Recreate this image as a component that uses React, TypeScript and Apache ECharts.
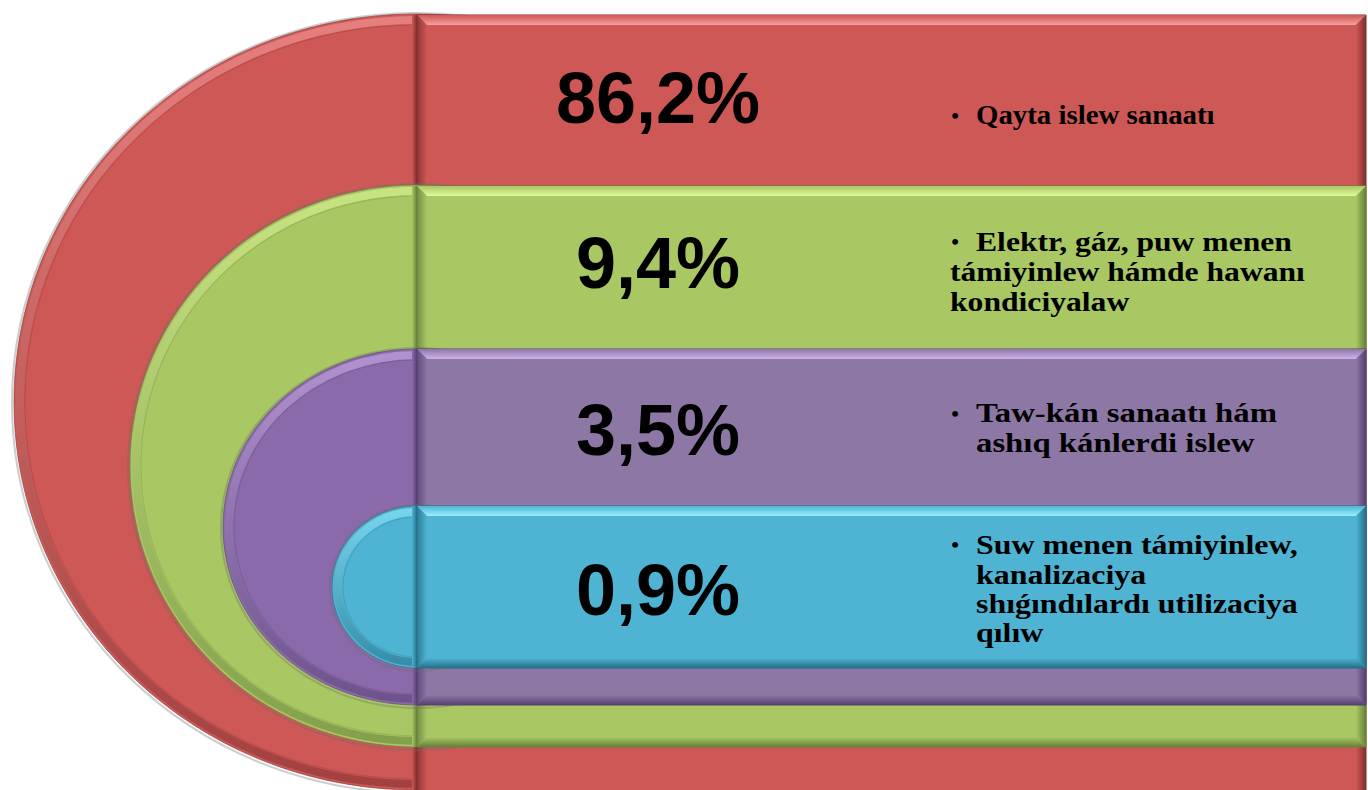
import React, { useEffect, useRef } from "react";
import * as echarts from "echarts";

// ---- data ----
const categories: string[] = [
  "Qayta islew sanaatı",
  "Elektr, gáz, puw menen\ntámiyinlew hámde hawanı\nkondiciyalaw",
  "Taw-kán sanaatı hám\nashıq kánlerdi islew",
  "Suw menen támiyinlew,\nkanalizaciya\nshıǵındılardı utilizaciya\nqılıw",
];
const shares: number[] = [86.2, 9.4, 3.5, 0.9];

// ---- styles ----
const palette = [
  { disc: "#CD5856", rect: "#CD5856", light: "#F8A09E", dark: "#7E2E2D" },
  { disc: "#A9C763", rect: "#A9C763", light: "#E0FA9C", dark: "#66803A" },
  { disc: "#8A6AAA", rect: "#8C77A5", light: "#CFB2EE", dark: "#563F72" },
  { disc: "#4FB4D3", rect: "#4FB4D3", light: "#98EEFC", dark: "#246F87" },
];

// ---- layout ----
const SPLIT_X = 417;
const RIGHT_X = 1366;
const bands = [
  { top: 15, bottom: 800, cy: 402, rx: 403, ry: 388, pctY: 98, lineY: [115], hanging: true, sx: 1.03 },
  { top: 186, bottom: 747, cy: 466, rx: 287, ry: 281, pctY: 263, lineY: [241, 271, 301], hanging: false, sx: 1.13 },
  { top: 349, bottom: 705, cy: 527, rx: 194, ry: 178, pctY: 430, lineY: [413, 443], hanging: true, sx: 1.17 },
  { top: 506, bottom: 668, cy: 587, rx: 85, ry: 81, pctY: 590, lineY: [544, 574, 603, 632], hanging: true, sx: 1.14 },
];

const fmt = (v: number) => v.toFixed(1).replace(".", ",") + "%";

function lg(x2: number, y2: number, c0: string, c1: string, x1 = 0, y1 = 0) {
  return new echarts.graphic.LinearGradient(x1, y1, x2, y2, [
    { offset: 0, color: c0 },
    { offset: 1, color: c1 },
  ]);
}

function buildGraphics() {
  const els: any[] = [];
  const B = 10;
  bands.forEach((b, i) => {
    const p = palette[i];
    const z = i * 20;
    const x0 = SPLIT_X;
    const x1 = RIGHT_X;
    const y0 = b.top;
    const y1 = b.bottom;
    // soft outer shadow of the disc
    els.push({
      type: "ellipse",
      z,
      shape: { cx: SPLIT_X, cy: b.cy + 1, rx: b.rx + 2, ry: b.ry + 2 },
      style: { fill: "rgba(0,0,0,0)", stroke: "rgba(110,110,110,0.35)", lineWidth: 2 },
      silent: true,
    });
    // disc
    els.push({
      type: "ellipse",
      z: z + 1,
      shape: { cx: SPLIT_X, cy: b.cy, rx: b.rx, ry: b.ry },
      style: { fill: p.disc, stroke: p.dark, lineWidth: 1, strokeOpacity: 0.6 },
      silent: true,
    });
    // disc bevel
    els.push({
      type: "ellipse",
      z: z + 2,
      shape: { cx: SPLIT_X, cy: b.cy, rx: b.rx - 6, ry: b.ry - 6 },
      style: {
        fill: "rgba(0,0,0,0)",
        stroke: lg(0.5, 1, p.light, p.dark, 0.5, 0),
        lineWidth: 8,
        opacity: 0.55,
      },
      silent: true,
    });
    els.push({
      type: "ellipse",
      z: z + 2,
      shape: { cx: SPLIT_X, cy: b.cy, rx: b.rx - 11, ry: b.ry - 11 },
      style: { fill: "rgba(0,0,0,0)", stroke: p.dark, lineWidth: 1, opacity: 0.3 },
      silent: true,
    });
    // dark seam on disc's right edge
    els.push({
      type: "rect",
      z: z + 3,
      shape: { x: SPLIT_X - 5, y: y0, width: 5, height: Math.min(y1, 800) - y0 },
      style: { fill: lg(1, 0, p.disc, p.dark) },
      silent: true,
    });
    // rectangle
    els.push({
      type: "rect",
      z: z + 4,
      shape: { x: x0, y: y0, width: x1 - x0, height: y1 - y0 },
      style: { fill: p.rect, stroke: p.dark, lineWidth: 1 },
      silent: true,
    });
    // bevels
    els.push({
      type: "polygon",
      z: z + 5,
      shape: { points: [[x0, y0], [x1, y0], [x1 - B, y0 + B], [x0 + B, y0 + B]] },
      style: { fill: lg(0, 1, p.rect, p.light) },
      silent: true,
    });
    els.push({
      type: "polygon",
      z: z + 5,
      shape: { points: [[x0, y1], [x1, y1], [x1 - B, y1 - B], [x0 + B, y1 - B]] },
      style: { fill: lg(0, 1, p.rect, p.dark) },
      silent: true,
    });
    els.push({
      type: "polygon",
      z: z + 5,
      shape: { points: [[x0, y0], [x0 + B, y0 + B], [x0 + B, y1 - B], [x0, y1]] },
      style: { fill: lg(1, 0, p.dark, p.rect), opacity: 0.8 },
      silent: true,
    });
    els.push({
      type: "polygon",
      z: z + 5,
      shape: { points: [[x1, y0], [x1 - B, y0 + B], [x1 - B, y1 - B], [x1, y1]] },
      style: { fill: lg(1, 0, p.rect, p.dark) },
      silent: true,
    });
    // percentage
    els.push({
      type: "text",
      z: z + 8,
      x: 658,
      y: b.pctY,
      style: {
        text: fmt(shares[i]),
        fill: "#000",
        font: "bold 72px 'Liberation Sans', Arial, sans-serif",
        align: "center",
        verticalAlign: "middle",
        textAlign: "center",
        textVerticalAlign: "middle",
      },
      silent: true,
    });
    // label lines
    const lines = categories[i].split("\n");
    lines.forEach((ln, k) => {
      const y = b.lineY[k];
      if (k === 0) {
        els.push({
          type: "text",
          z: z + 8,
          x: 955,
          y,
          style: {
            text: "•",
            fill: "#000",
            font: "bold 22px 'Liberation Serif', 'Times New Roman', serif",
            align: "center",
            verticalAlign: "middle",
            textAlign: "center",
            textVerticalAlign: "middle",
          },
          silent: true,
        });
      }
      const tx = k === 0 ? 976 : b.hanging ? 976 : 950;
      els.push({
        type: "text",
        z: z + 8,
        x: tx,
        y,
        scaleX: b.sx,
        style: {
          text: ln,
          fill: "#000",
          font: "bold 28px 'Liberation Serif', 'Times New Roman', serif",
          align: "left",
          verticalAlign: "middle",
          textAlign: "left",
          textVerticalAlign: "middle",
        },
        silent: true,
      });
    });
  });
  return els;
}

export default function App() {
  const ref = useRef<HTMLDivElement>(null);
  useEffect(() => {
    document.body.style.margin = "0";
    if (!ref.current) return;
    const chart = echarts.init(ref.current, undefined, { renderer: "svg" });
    chart.setOption({
      animation: false,
      backgroundColor: "#ffffff",
      graphic: { elements: buildGraphics() },
    });
    return () => chart.dispose();
  }, []);
  return <div ref={ref} style={{ width: 1368, height: 790 }} />;
}
